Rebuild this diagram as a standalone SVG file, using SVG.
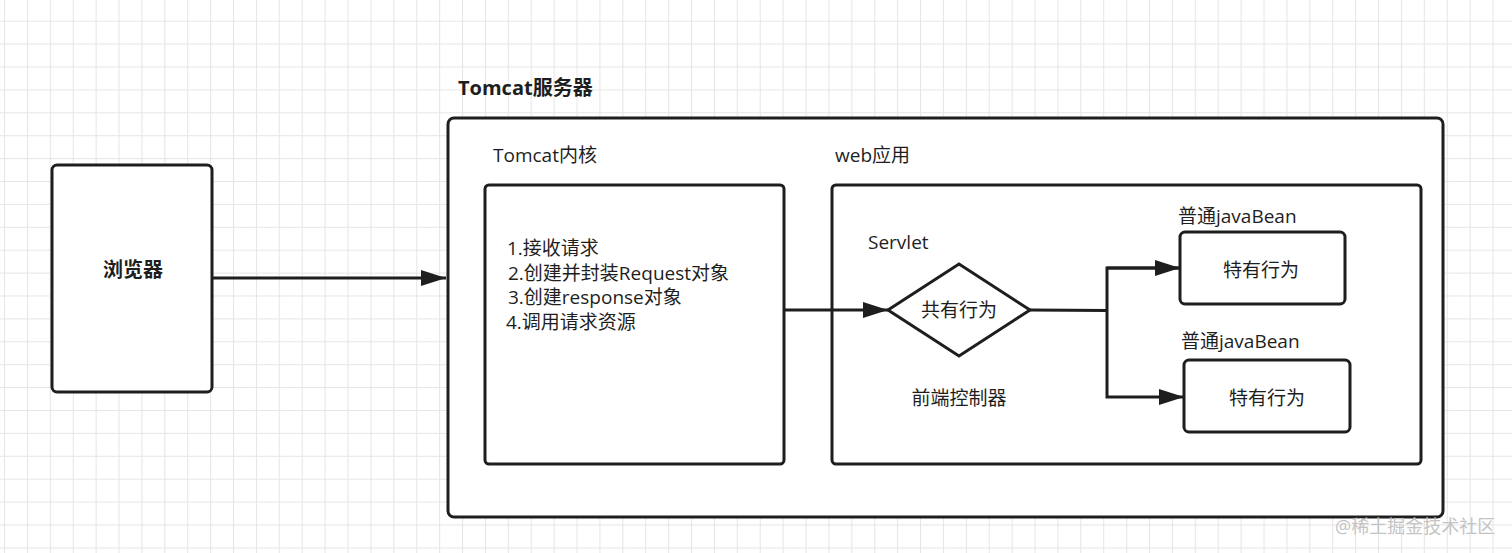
<svg xmlns="http://www.w3.org/2000/svg" width="1512" height="553" viewBox="0 0 1512 553">
<defs>
<pattern id="grid" x="4" y="-2.2" width="22.9" height="22.9" patternUnits="userSpaceOnUse">
<path d="M0.5 0V22.9M0 0.5H22.9" fill="none" stroke="#e6e6e6" stroke-width="1.2"/>
</pattern>
<marker id="arr" markerUnits="userSpaceOnUse" markerWidth="26" markerHeight="18" refX="25" refY="9" orient="auto">
<path d="M0 1L25 9L0 17Z" fill="#1e1e1e"/>
</marker>
<style>
.box{fill:#fff;stroke:#1e1e1e;stroke-width:3}
.ln{fill:none;stroke:#1e1e1e;stroke-width:3}
text{font-family:"Open Sans","Noto Sans CJK SC",sans-serif;fill:#1e1e1e;font-size:19px}
.b{font-weight:bold;font-size:20px}
.c{text-anchor:middle}
</style>
</defs>
<rect width="1512" height="553" fill="#fff"/>
<rect width="1512" height="553" fill="url(#grid)"/>
<g id="browser">
<rect class="box" x="52" y="165" width="160" height="227" rx="5"/>
<text class="b c" x="133" y="277">浏览器</text>
</g>
<g id="tomcat-server">
<text class="b" x="458" y="95">Tomcat服务器</text>
<rect class="box" x="448" y="118" width="995" height="399" rx="6"/>
</g>
<g id="tomcat-kernel">
<text x="493" y="162">Tomcat内核</text>
<rect class="box" x="485" y="185" width="299" height="279" rx="4"/>
<text x="507" y="255">1.接收请求</text>
<text x="508" y="280">2.创建并封装Request对象</text>
<text x="508" y="304">3.创建response对象</text>
<text x="506" y="329">4.调用请求资源</text>
</g>
<g id="web-app">
<text x="835" y="162">web应用</text>
<rect class="box" x="832" y="185" width="589" height="279" rx="4"/>
</g>
<g id="servlet">
<text x="868" y="249">Servlet</text>
<path class="box" d="M888 310L959 264L1030 310L959 356Z"/>
<text class="c" x="959" y="317">共有行为</text>
<text class="c" x="959" y="405">前端控制器</text>
</g>
<g id="bean1">
<text x="1178" y="223">普通javaBean</text>
<rect class="box" x="1180" y="232" width="165" height="72" rx="5"/>
<text class="c" x="1261" y="277">特有行为</text>
</g>
<g id="bean2">
<text x="1181" y="348">普通javaBean</text>
<rect class="box" x="1184" y="360" width="166" height="72" rx="5"/>
<text class="c" x="1267" y="405">特有行为</text>
</g>
<g id="connectors">
<path class="ln" d="M212 278H446" marker-end="url(#arr)"/>
<path class="ln" d="M784 310H888" marker-end="url(#arr)"/>
<path class="ln" d="M1030 310L1107 310.5"/>
<path class="ln" d="M1180 268H1107V397H1184" marker-end="url(#arr)"/>
<path class="ln" d="M1107 268H1180" marker-end="url(#arr)"/>
</g>
<text x="1335" y="533" style="fill:#c4c4c4;font-size:18px">@稀土掘金技术社区</text>
</svg>
